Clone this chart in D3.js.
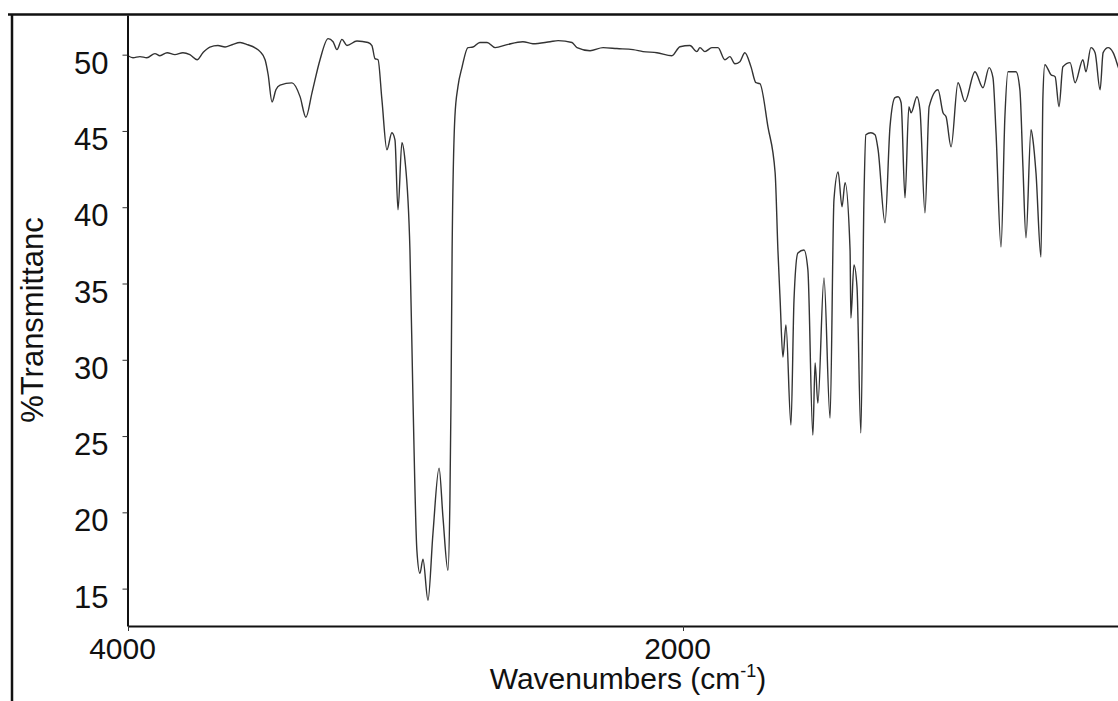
<!DOCTYPE html>
<html>
<head>
<meta charset="utf-8">
<script src="https://cdn.jsdelivr.net/npm/d3@7"></script>
<style>
  html, body { margin: 0; padding: 0; background: #fff; overflow: hidden; }
  svg { display: block; }
  text { font-family: "Liberation Sans", Arial, sans-serif; fill: #111; }
</style>
</head>
<body>
<svg id="chart" width="1118" height="701"></svg>
<script>
// ---- data ----
const wavenumbers = [4000, 3982, 3957, 3932, 3903, 3885, 3859, 3831, 3802, 3777, 3751, 3730, 3705, 3676, 3650, 3625, 3596, 3568, 3542, 3524, 3506, 3495, 3481, 3467, 3452, 3409, 3380, 3359, 3337, 3308, 3279, 3261, 3247, 3229, 3211, 3175, 3135, 3121, 3110, 3099, 3085, 3067, 3049, 3038, 3027, 3013, 3002, 2984, 2973, 2959, 2948, 2937, 2919, 2901, 2879, 2865, 2847, 2840, 2836, 2832, 2822, 2811, 2796, 2775, 2757, 2732, 2706, 2677, 2634, 2577, 2541, 2479, 2450, 2400, 2382, 2335, 2288, 2238, 2180, 2144, 2094, 2040, 2011, 1975, 1950, 1939, 1921, 1896, 1874, 1849, 1831, 1813, 1795, 1777, 1755, 1737, 1723, 1694, 1668, 1658, 1650, 1640, 1629, 1611, 1600, 1586, 1564, 1550, 1532, 1524, 1514, 1492, 1470, 1456, 1441, 1427, 1416, 1398, 1395, 1384, 1373, 1359, 1348, 1341, 1323, 1308, 1297, 1272, 1254, 1236, 1225, 1214, 1200, 1186, 1178, 1157, 1146, 1128, 1113, 1081, 1063, 1052, 1034, 1009, 984, 948, 919, 897, 883, 872, 854, 840, 829, 800, 786, 775, 764, 746, 739, 728, 710, 703, 696, 674, 659, 645, 631, 605, 587, 559, 548, 530, 515, 497, 486, 468, 450, 432, 407];
const transmittance = [49.93, 49.8, 49.87, 49.8, 50.07, 49.93, 50.13, 50.0, 50.13, 50.0, 49.67, 50.13, 50.5, 50.6, 50.5, 50.65, 50.8, 50.65, 50.45, 50.2, 49.67, 48.7, 46.9, 47.7, 48.0, 48.15, 47.25, 45.9, 47.5, 49.67, 51.05, 50.85, 50.33, 51.0, 50.6, 50.9, 50.8, 50.6, 49.74, 49.67, 47.05, 43.77, 44.88, 44.42, 39.83, 44.23, 43.1, 37.2, 27.36, 17.52, 16.0, 16.93, 14.24, 18.63, 22.9, 19.68, 16.2, 20.8, 27.36, 37.2, 45.93, 47.9, 49.2, 50.46, 50.5, 50.8, 50.8, 50.46, 50.66, 50.85, 50.72, 50.85, 50.92, 50.8, 50.46, 50.26, 50.46, 50.4, 50.33, 50.2, 50.13, 49.93, 50.52, 50.6, 50.2, 50.46, 50.2, 50.46, 50.46, 49.67, 49.87, 49.4, 49.54, 50.13, 49.2, 48.16, 48.1, 45.28, 42.26, 37.2, 33.92, 30.18, 32.28, 25.72, 33.92, 37.0, 37.2, 35.9, 25.06, 29.8, 27.16, 35.37, 26.18, 40.49, 42.32, 40.03, 41.6, 37.2, 32.74, 36.22, 34.78, 25.2, 40.49, 44.75, 44.88, 44.75, 43.77, 38.98, 45.28, 47.18, 47.24, 46.85, 40.62, 46.59, 46.19, 47.24, 46.39, 39.63, 46.59, 47.7, 46.19, 45.93, 43.96, 48.16, 46.92, 48.88, 47.83, 49.15, 48.49, 44.88, 37.4, 45.93, 48.88, 48.88, 47.7, 42.65, 37.99, 45.08, 44.42, 42.26, 36.74, 47.24, 49.34, 48.69, 48.56, 46.59, 49.21, 49.48, 48.16, 49.67, 48.88, 50.46, 50.13, 47.7, 50.13, 50.46, 50.13, 49.21, 47.7];
const xTickValues = [4000, 2000];
const yTickValues = [15, 20, 25, 30, 35, 40, 45, 50];
const xAxisTitle = "Wavenumbers (cm";
const xAxisSup = "-1";
const yAxisTitle = "%Transmittanc";

// ---- layout ----
const svg = d3.select("#chart");
const plotLeft = 128, plotTop = 15, plotBottom = 626, plotRight = 1127;

const x = d3.scaleLinear().domain([4000, 400]).range([plotLeft, plotRight]);
const y = d3.scaleLinear().domain([12.55, 52.6]).range([plotBottom, plotTop]);

// outer frame
svg.append("path")
  .attr("d", "M8,14.5H1125M12,14.5V710")
  .attr("fill", "none").attr("stroke", "#111").attr("stroke-width", 2.5);

// spectrum
const pts = wavenumbers.map((w, i) => [w, transmittance[i]]);
svg.append("path")
  .datum(pts)
  .attr("fill", "none")
  .attr("stroke", "#333")
  .attr("stroke-width", 1.4)
  .attr("stroke-linejoin", "round")
  .attr("d", d3.line().curve(d3.curveMonotoneX).x(d => x(d[0])).y(d => y(d[1])));

// y axis
const gy = svg.append("g").attr("transform", `translate(${plotLeft - 0.5},0)`)
  .call(d3.axisLeft(y).tickValues(yTickValues).tickSize(5).tickSizeOuter(0).tickPadding(14));
gy.select(".domain").attr("stroke", "#111").attr("stroke-width", 2);
gy.selectAll(".tick line").attr("stroke", "#333").attr("stroke-width", 1);
gy.selectAll(".tick text").attr("font-size", 31).attr("dy", "0.6em")
  .attr("font-family", "'Liberation Sans', Arial, sans-serif").attr("fill", "#111");

// x axis
const gx = svg.append("g").attr("transform", `translate(0,${plotBottom})`)
  .call(d3.axisBottom(x).tickValues(xTickValues).tickFormat(d3.format("d")).tickSize(5).tickSizeOuter(0).tickPadding(10));
gx.select(".domain").attr("stroke", "#111").attr("stroke-width", 2);
gx.selectAll(".tick line").attr("stroke", "#333").attr("stroke-width", 1);
gx.selectAll(".tick text").attr("font-size", 30).attr("dx", -6).attr("dy", "0.6em")
  .attr("font-family", "'Liberation Sans', Arial, sans-serif").attr("fill", "#111");

// axis titles
const xt = svg.append("text")
  .attr("x", 628).attr("y", 689)
  .attr("text-anchor", "middle")
  .attr("font-size", 30);
xt.append("tspan").text(xAxisTitle);
xt.append("tspan").attr("font-size", 18).attr("dy", -12).text(xAxisSup);
xt.append("tspan").attr("dy", 12).text(")");

svg.append("text")
  .attr("transform", "translate(43,320) rotate(-90)")
  .attr("text-anchor", "middle")
  .attr("font-size", 31)
  .text(yAxisTitle);
</script>
</body>
</html>
